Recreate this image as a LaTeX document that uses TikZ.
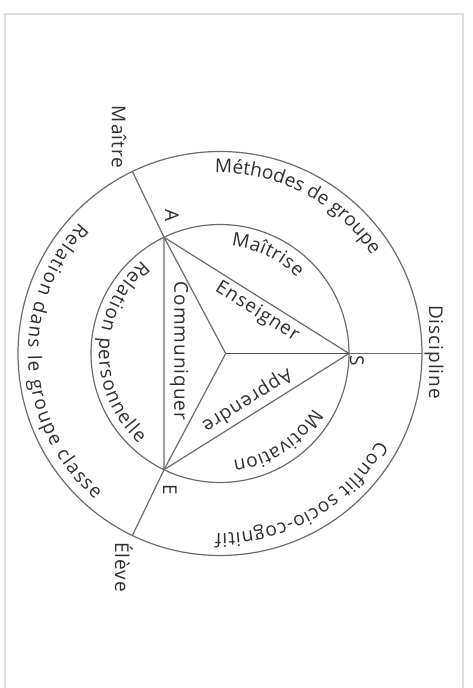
\documentclass[tikz,border=0pt]{standalone}
\usepackage{fontspec}
\newfontfamily\labfam[LetterSpace=5]{Open Sans}
\newfontfamily\arcfam{Open Sans}
\newcommand\labfont{\labfam\fontsize{19}{23}\selectfont}
\newcommand\arcfont{\arcfam\fontsize{19}{23}\selectfont}
\usetikzlibrary{decorations.text}
\definecolor{txt}{gray}{0.18}
\definecolor{ln}{gray}{0.42}
\definecolor{fr}{gray}{0.87}
\begin{document}
\begin{tikzpicture}[x=1pt,y=1pt,
  frame/.style={draw=fr,line width=2pt},
  ring/.style={draw=ln,line width=1.2pt},
  edge/.style={draw=ln,line width=1.2pt},
  lab/.style={font=\labfont,text=txt,inner sep=0pt},
  arclab/.style={decorate,decoration={text along path,text align=fit to path,text={|\arcfont\color{txt}|#1}}}]
\useasboundingbox (-220,-334.5) rectangle (253,353.5);
\draw[frame] (-215,-345) -- (-215,339.5) -- (243,339.5) -- (243,-345);
% points
\coordinate (O) at (0,0);
\coordinate (A) at (115.7:129pt);
\coordinate (S) at (0:129pt);
\coordinate (E) at (-115.7:129pt);
\coordinate (G) at (5.7,0);
\coordinate (M) at (115.7:202pt);
\coordinate (D) at (0:202pt);
\coordinate (L) at (-115.7:202pt);
% circles
\draw[ring] (O) circle[radius=202pt];
\draw[ring] (O) circle[radius=129pt];
% triangle and spokes
\draw[edge] (A) -- (S) -- (E) -- cycle;
\draw[edge] (G) -- (A);
\draw[edge] (G) -- (E);
\draw[edge,draw=black!70] (G) -- (S);
\draw[edge] (A) -- (M);
\draw[edge] (S) -- (D);
\draw[edge] (E) -- (L);
% point labels
\node[lab,rotate=-90] (lA) at (-48,137.5) {A};
\node[lab,rotate=-90] (lS) at (137,-7.5) {S};
\node[lab,rotate=-90] (lE) at (-50,-136.5) {E};
\node[lab,rotate=-90] (lM) at (-101,216.5) {Maître};
\node[lab,rotate=-90] (lD) at (214,1.5) {Discipline};
\node[lab,rotate=-90] (lL) at (-96,-213.5) {Élève};
% edge labels
\node[lab,rotate=-32.2] (en) at (37,41.5) {Enseigner};
\node[lab,rotate=212.2] (ap) at (27,-46.5) {Apprendre};
\node[lab,rotate=-90] (co) at (-41,2.5) {Communiquer};
% arc labels outer
\path[arclab={Méthodes de groupe}] (91.6:180.5pt) arc[start angle=91.6,end angle=32.9,radius=180.5pt];
\path[arclab={Conflit socio-cognitif}] (-29:180pt) arc[start angle=-29,end angle=-91.5,radius=180pt];
\path[arclab={Relation dans le groupe classe}] (137:192pt) arc[start angle=137,end angle=229.5,radius=192pt];
% arc labels inner
\path[arclab={Maîtrise}] (84:108pt) arc[start angle=84,end angle=44.5,radius=108pt];
\path[arclab={Motivation}] (-30.5:108pt) arc[start angle=-30.5,end angle=-83,radius=108pt];
\path[arclab={Relation personnelle}] (130:121pt) arc[start angle=130,end angle=228,radius=121pt];
\end{tikzpicture}
\end{document}
